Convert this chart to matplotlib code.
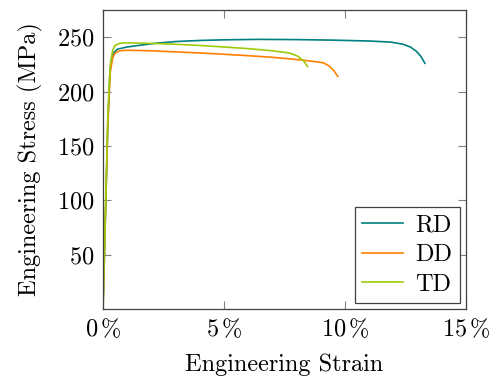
"""
Engineering stress-strain curves for RD / DD / TD specimens.
"""
import matplotlib
matplotlib.use("Agg")
import matplotlib.pyplot as plt

# ── Data (strain in %, stress in MPa) ─────────────────────────────────────────
rd_strain = [0, 0.1, 0.2, 0.28, 0.35, 0.45, 0.6, 1.0, 1.5, 2.2, 3.0, 4.0, 5.0,
             6.4, 8.0, 9.5, 11.0, 11.9, 12.4, 12.7, 12.95, 13.15, 13.3]
rd_stress = [0, 85, 170, 215, 230, 236, 239, 241, 242.5, 244.5, 246, 247, 247.6,
             248, 247.8, 247.3, 246.5, 245.5, 243.5, 241, 237, 232, 226]

dd_strain = [0, 0.1, 0.2, 0.3, 0.4, 0.5, 0.7, 1.0, 2.0, 3.0, 4.0, 5.0, 6.0,
             7.0, 8.0, 8.6, 9.1, 9.35, 9.55, 9.7]
dd_stress = [0, 85, 170, 218, 231, 235.5, 237.5, 238, 237.5, 236.5, 235.5,
             234.3, 233, 231.5, 229.5, 228, 226.5, 223.5, 219, 214]

td_strain = [0, 0.1, 0.2, 0.3, 0.4, 0.5, 0.7, 1.0, 2.0, 3.0, 4.0, 5.0, 6.0,
             7.0, 7.7, 8.05, 8.3, 8.45]
td_stress = [0, 90, 180, 225, 238, 242.5, 244.5, 244.8, 244.3, 243.5, 242.4,
             241, 239.5, 237.5, 235.5, 232.5, 228, 223]

labels = ["RD", "DD", "TD"]
x_ticks = [0, 5, 10, 15]
y_ticks = [50, 100, 150, 200, 250]

# ── Style ─────────────────────────────────────────────────────────────────────
plt.rcParams["font.family"] = ["cmr10", "DejaVu Serif"]
plt.rcParams["mathtext.fontset"] = "cm"
plt.rcParams["axes.unicode_minus"] = False
plt.rcParams["axes.formatter.use_mathtext"] = True
FS = 17.5

C = {"RD": "#008080", "DD": "#ff8000", "TD": "#9fcb0a", "tick": "#808080"}

fig = plt.figure(figsize=(4.9, 3.78), dpi=100)
ax = fig.add_axes([0.2102, 0.1825, 0.7408, 0.791])

for xs, ys, lab in zip([rd_strain, dd_strain, td_strain],
                       [rd_stress, dd_stress, td_stress], labels):
    ax.plot(xs, ys, color=C[lab], lw=1.2, label=lab)

ax.set_xlim(0, 15)
ax.set_ylim(0, 275)
ax.set_xticks(x_ticks)
ax.set_xticklabels([rf"${t}\,\%$" for t in x_ticks], fontsize=FS)
ax.set_yticks(y_ticks)
ax.set_yticklabels([rf"${t}$" for t in y_ticks], fontsize=FS)
ax.tick_params(direction="in", length=6, width=0.8, color=C["tick"],
               top=True, right=True, pad=6)

for s in ax.spines.values():
    s.set_color("#404040")
    s.set_linewidth(0.9)

ax.set_xlabel("Engineering Strain", fontsize=FS, labelpad=9)
ax.set_ylabel("Engineering Stress (MPa)", fontsize=FS, labelpad=10)

leg = ax.legend(loc="lower right", fontsize=FS, fancybox=False,
                edgecolor="#404040", framealpha=1, handlelength=1.7,
                borderaxespad=0.25, labelspacing=0.3, handletextpad=0.5,
                borderpad=0.3)
leg.get_frame().set_linewidth(0.9)

fig.savefig("out.png", dpi=100)
